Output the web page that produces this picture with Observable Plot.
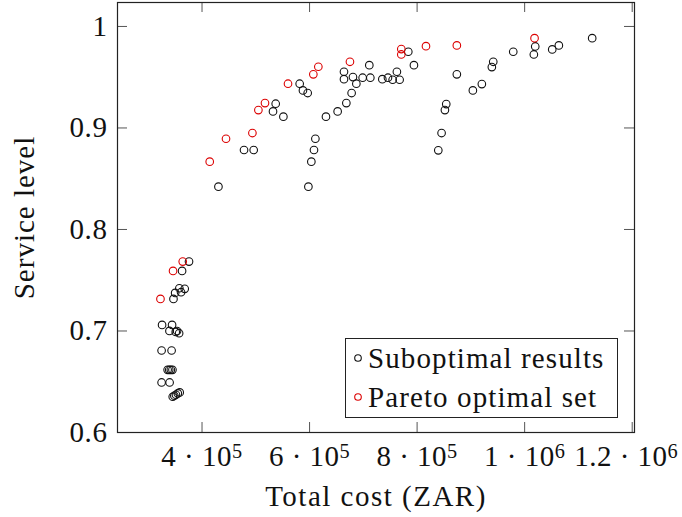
<!DOCTYPE html>
<html>
<head>
<meta charset="utf-8">
<script src="https://cdn.jsdelivr.net/npm/d3@7"></script>
<script src="https://cdn.jsdelivr.net/npm/@observablehq/plot@0.6"></script>
<style>
  body { margin: 0; background: #fff; }
  #wrap { position: relative; width: 682px; height: 517px; font-family: "Liberation Serif", serif; color: #111; }
  .legend { position: absolute; left: 345px; top: 338px; width: 271px; height: 78px; border: 1px solid #222; background: #fff; }
  .legend .row { position: absolute; left: 6px; height: 36px; display: flex; align-items: center; font-size: 29px; letter-spacing: 1.1px; white-space: nowrap; }
  .legend svg { margin-right: 4px; }
</style>
</head>
<body>
<div id="wrap"></div>
<script>
// Total cost (ZAR) and service level of each evaluated configuration
const suboptimalCost = [
  375800, 362900, 367800, 357800, 361000, 350000, 346900,
  325700, 344300, 339400, 351100, 353600, 357400,
  324800, 343400, 336000, 339000, 342000, 345000,
  324800, 339700, 345500, 348500, 351500, 355000, 358500,
  430500, 478100, 496100, 532000, 537000, 551300, 581600, 587700, 596500,
  597800, 603300, 608200, 610800, 630500, 652200, 668400, 678200, 687000,
  664000, 664000, 680700, 698700, 713000, 711100, 735300, 745800, 754500,
  762400, 767500, 783600, 794100, 839400, 845500, 851700, 854200, 873900,
  903700, 920400, 939000, 941600, 978800, 1017100, 1019700, 1051300, 1063600, 1125600
];
const suboptimalLevel = [
  0.7684, 0.7592, 0.7415, 0.7421, 0.7382, 0.7375, 0.7316,
  0.7060, 0.7060, 0.7001, 0.6991, 0.7000, 0.6978,
  0.6808, 0.6808, 0.6617, 0.6617, 0.6617, 0.6617,
  0.6493, 0.6493, 0.6352, 0.6362, 0.6372, 0.6385, 0.6395,
  0.8422, 0.8783, 0.8783, 0.9163, 0.9239, 0.9111, 0.9436, 0.9370, 0.9344,
  0.8422, 0.8668, 0.8783, 0.8894, 0.9111, 0.9163, 0.9245, 0.9344, 0.9436,
  0.9481, 0.9554, 0.9501, 0.9495, 0.9495, 0.9619, 0.9481, 0.9495, 0.9475,
  0.9554, 0.9475, 0.9751, 0.9619, 0.8780, 0.8950, 0.9176, 0.9235, 0.9528,
  0.9370, 0.9432, 0.9600, 0.9652, 0.9751, 0.9724, 0.9803, 0.9774, 0.9813, 0.9885
];
const paretoCost = [
  322700, 346100, 364100, 414300, 444600, 493700, 504800, 517100, 559900,
  607000, 616300, 675100, 770600, 770600, 816500, 873900, 1018400
];
const paretoLevel = [
  0.7316, 0.7592, 0.7684, 0.8668, 0.8894, 0.8950, 0.9176, 0.9245, 0.9436,
  0.9528, 0.9603, 0.9652, 0.9724, 0.9777, 0.9806, 0.9813, 0.9885
];

const xTicks = [4e5, 6e5, 8e5, 1e6, 1.2e6];
const xTickLabels = ["4 · 10^5", "6 · 10^5", "8 · 10^5", "1 · 10^6", "1.2 · 10^6"];
const yTicks = [0.6, 0.7, 0.8, 0.9, 1];
const yTickLabels = ["0.6", "0.7", "0.8", "0.9", "1"];

const seriesNames = ["Suboptimal results", "Pareto optimal set"];
const seriesColors = ["#111111", "#dc0000"];

const suboptimal = suboptimalCost.map((c, i) => ({cost: c, level: suboptimalLevel[i]}));
const pareto = paretoCost.map((c, i) => ({cost: c, level: paretoLevel[i]}));

const W = 682, H = 517, ML = 117, MR = 48, MT = 2, MB = 85;
const innerW = W - ML - MR, innerH = H - MT - MB, tick = 10;

const chart = Plot.plot({
  width: W, height: H,
  marginLeft: ML, marginRight: MR, marginTop: MT, marginBottom: MB,
  style: {fontFamily: '"Liberation Serif", serif', fontSize: "29px", color: "#111", background: "#fff"},
  x: {domain: [242800, 1204300]},
  y: {domain: [0.6, 1.0236]},
  marks: [
    // inward ticks on all four sides of the box
    Plot.tickX(xTicks, {x: d => d, stroke: "#555", insetTop: innerH - tick}),
    Plot.tickX(xTicks, {x: d => d, stroke: "#555", insetBottom: innerH - tick}),
    Plot.tickY(yTicks, {y: d => d, stroke: "#555", insetRight: innerW - tick}),
    Plot.tickY(yTicks, {y: d => d, stroke: "#555", insetLeft: innerW - tick}),
    Plot.axisX(xTicks, {
      anchor: "bottom", tickSize: 0, tickPadding: 13,
      tickFormat: d => xTickLabels[xTicks.indexOf(d)],
      label: "Total cost (ZAR)", labelAnchor: "center", labelOffset: 73, labelArrow: "none"
    }),
    Plot.axisY(yTicks, {
      anchor: "left", tickSize: 0, tickPadding: 10,
      tickFormat: d => yTickLabels[yTicks.indexOf(d)],
      label: "Service level", labelAnchor: "center", labelOffset: 104, labelArrow: "none"
    }),
    Plot.dot(suboptimal, {x: "cost", y: "level", r: 3.8, stroke: seriesColors[0], strokeWidth: 1.1, fill: "none"}),
    Plot.dot(pareto, {x: "cost", y: "level", r: 3.8, stroke: seriesColors[1], strokeWidth: 1.1, fill: "none"}),
    Plot.frame({stroke: "#222", strokeWidth: 1.2})
  ]
});

// turn "10^5" into a raised exponent
const svgNS = "http://www.w3.org/2000/svg";
const xLabels = chart.querySelectorAll('[aria-label="x-axis tick label"] text');
xLabels.forEach(t => {
  t.style.letterSpacing = "0.5px";
  const parts = t.textContent.split("^");
  if (parts.length < 2) return;
  t.textContent = parts[0];
  const sup = document.createElementNS(svgNS, "tspan");
  sup.setAttribute("dy", "-0.4em");
  sup.setAttribute("font-size", "0.7em");
  sup.textContent = parts[1];
  t.appendChild(sup);
});
// keep the rightmost label inside the page
if (xLabels.length) xLabels[xLabels.length - 1].setAttribute("dx", "-6");
chart.querySelectorAll('[aria-label="y-axis tick label"] text').forEach(t => { t.style.letterSpacing = "0.6px"; });
chart.querySelectorAll('[aria-label="x-axis label"] text').forEach(t => { t.style.letterSpacing = "1.5px"; });
chart.querySelectorAll('[aria-label="y-axis label"] text').forEach(t => { t.style.letterSpacing = "1px"; });

const wrap = document.getElementById("wrap");
wrap.appendChild(chart);

// legend box inside the plot area
const legend = document.createElement("div");
legend.className = "legend";
seriesNames.forEach((name, i) => {
  const row = document.createElement("div");
  row.className = "row";
  row.style.top = (i === 0 ? 1 : 40) + "px";
  row.innerHTML = `<svg width="12" height="12"><circle cx="6" cy="6" r="3.3" fill="none" stroke="${seriesColors[i]}" stroke-width="1.1"/></svg><span>${name}</span>`;
  legend.appendChild(row);
});
wrap.appendChild(legend);
</script>
</body>
</html>
